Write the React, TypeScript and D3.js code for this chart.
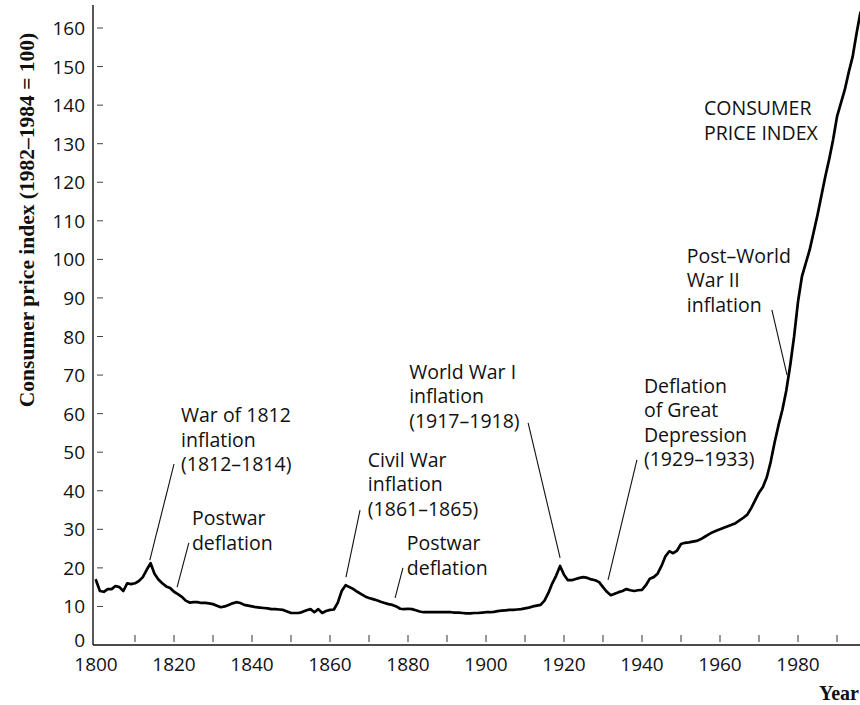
import React from "react";
import * as d3 from "d3";

// ---- Data ----
const years = [
  1800, 1801, 1802, 1803, 1804, 1805, 1806, 1807, 1808, 1809,
  1810, 1811, 1812, 1813, 1814, 1815, 1816, 1817, 1818, 1819,
  1820, 1821, 1822, 1823, 1824, 1825, 1826, 1827, 1828, 1829,
  1830, 1831, 1832, 1833, 1834, 1835, 1836, 1837, 1838, 1839,
  1840, 1841, 1842, 1843, 1844, 1845, 1846, 1847, 1848, 1849,
  1850, 1851, 1852, 1853, 1854, 1855, 1856, 1857, 1858, 1859,
  1860, 1861, 1862, 1863, 1864, 1865, 1866, 1867, 1868, 1869,
  1870, 1871, 1872, 1873, 1874, 1875, 1876, 1877, 1878, 1879,
  1880, 1881, 1882, 1883, 1884, 1885, 1886, 1887, 1888, 1889,
  1890, 1891, 1892, 1893, 1894, 1895, 1896, 1897, 1898, 1899,
  1900, 1901, 1902, 1903, 1904, 1905, 1906, 1907, 1908, 1909,
  1910, 1911, 1912, 1913, 1914, 1915, 1916, 1917, 1918, 1919,
  1920, 1921, 1922, 1923, 1924, 1925, 1926, 1927, 1928, 1929,
  1930, 1931, 1932, 1933, 1934, 1935, 1936, 1937, 1938, 1939,
  1940, 1941, 1942, 1943, 1944, 1945, 1946, 1947, 1948, 1949,
  1950, 1951, 1952, 1953, 1954, 1955, 1956, 1957, 1958, 1959,
  1960, 1961, 1962, 1963, 1964, 1965, 1966, 1967, 1968, 1969,
  1970, 1971, 1972, 1973, 1974, 1975, 1976, 1977, 1978, 1979,
  1980, 1981, 1982, 1983, 1984, 1985, 1986, 1987, 1988, 1989,
  1990, 1991, 1992, 1993, 1994, 1995, 1996,
];

const cpi = [
  16.8, 14.0, 13.8, 14.5, 14.5, 15.3, 15.0, 14.0, 16.0, 15.8,
  16.0, 16.6, 17.6, 19.5, 21.2, 18.5, 17.0, 16.0, 15.2, 14.8,
  13.8, 13.2, 12.5, 11.5, 11.0, 11.1, 11.1, 10.9, 10.9, 10.8,
  10.6, 10.2, 9.8, 10.0, 10.4, 10.8, 11.1, 10.9, 10.4, 10.2,
  10.0, 9.8, 9.7, 9.6, 9.5, 9.3, 9.3, 9.2, 9.1, 8.7,
  8.3, 8.3, 8.3, 8.6, 9.0, 9.3, 8.5, 9.3, 8.3, 8.8,
  9.1, 9.2, 11.0, 14.0, 15.5, 15.0, 14.5, 13.8, 13.2, 12.6,
  12.2, 11.9, 11.6, 11.2, 10.9, 10.6, 10.4, 10.0, 9.4, 9.3,
  9.4, 9.3, 9.0, 8.7, 8.5, 8.5, 8.5, 8.5, 8.5, 8.5,
  8.5, 8.5, 8.4, 8.4, 8.3, 8.2, 8.2, 8.3, 8.3, 8.4,
  8.5, 8.5, 8.6, 8.8, 8.9, 9.0, 9.1, 9.1, 9.2, 9.3,
  9.5, 9.7, 10.0, 10.2, 10.4, 11.5, 13.5, 16.0, 18.0, 20.5,
  18.2, 16.8, 16.8, 17.1, 17.4, 17.6, 17.4, 17.0, 16.8, 16.3,
  15.0, 13.8, 12.9, 13.3, 13.7, 14.0, 14.5, 14.2, 14.0, 14.2,
  14.3, 15.5, 17.2, 17.6, 18.5, 20.5, 23.0, 24.3, 23.8, 24.5,
  26.2, 26.5, 26.6, 26.8, 27.0, 27.4, 28.0, 28.6, 29.2, 29.6,
  30.0, 30.4, 30.8, 31.2, 31.6, 32.3, 33.0, 33.8, 35.5, 37.5,
  39.5, 41.0, 43.5, 47.5, 52.5, 57.0, 61.0, 66.0, 72.5, 80.0,
  89.0, 95.5, 99.0, 102.5, 107.0, 111.5, 116.5, 121.5, 126.0, 131.0,
  137.0, 140.5, 144.0, 148.5, 152.5, 158.5, 164.0,
];

const yTickValues = [0, 10, 20, 30, 40, 50, 60, 70, 80, 90, 100, 110, 120, 130, 140, 150, 160];
const xTickLabels = [1800, 1820, 1840, 1860, 1880, 1900, 1920, 1940, 1960, 1980];
const xMinorTicks = [1810, 1820, 1830, 1840, 1850, 1860, 1870, 1880, 1890, 1900, 1910, 1920, 1930, 1940, 1950, 1960, 1970, 1980, 1990];

const yAxisTitle = "Consumer price index (1982\u20131984 = 100)";
const xAxisTitle = "Year";

// Annotations: text block anchored in data space, leader from/to in data space
const annotations = [
  { lines: ["War of 1812", "inflation", "(1812\u20131814)"], year: 1821.8, value: 57.8, from: [1820.0, 46.9], to: [1813.8, 22.0] },
  { lines: ["Postwar", "deflation"], year: 1824.6, value: 31.1, from: [1823.8, 26.5], to: [1820.8, 15.0] },
  { lines: ["Civil War", "inflation", "(1861\u20131865)"], year: 1869.7, value: 46.2, from: [1867.7, 35.0], to: [1864.1, 17.6] },
  { lines: ["Postwar", "deflation"], year: 1879.7, value: 24.6, from: [1878.7, 20.0], to: [1876.7, 12.2] },
  { lines: ["World War I", "inflation", "(1917\u20131918)"], year: 1880.3, value: 69.0, from: [1910.8, 57.6], to: [1919.0, 22.6] },
  { lines: ["Deflation", "of Great", "Depression", "(1929\u20131933)"], year: 1940.5, value: 65.4, from: [1938.7, 48.0], to: [1931.3, 16.9] },
  { lines: ["Post\u2013World", "War II", "inflation"], year: 1951.5, value: 99.1, from: [1973.3, 86.9], to: [1977.2, 70.0] },
  { lines: ["CONSUMER", "PRICE INDEX"], year: 1955.9, value: 137.4, from: null, to: null },
];

const W = 860;
const H = 705;
const SANS = "'Open Sans', 'Noto Sans', sans-serif";
const SERIF = "'Liberation Serif', 'Times New Roman', serif";

export default function App() {
  const x = d3.scaleLinear().domain([1800, 2000]).range([96, 876]);
  const y = d3.scaleLinear().domain([0, 160]).range([645, 28]);

  const pts = years.map((yr, i) => [yr, cpi[i]] as [number, number]);
  const line = d3
    .line<[number, number]>()
    .x((d) => x(d[0]))
    .y((d) => y(d[1]))
    .curve(d3.curveLinear);

  const axisX = 93;
  const baseY = y(0);
  const titleCenterY = 220;

  return (
    <svg
      width={W}
      height={H}
      viewBox={`0 0 ${W} ${H}`}
      style={{ position: "fixed", left: 0, top: 0, background: "#fff" }}
    >
      <rect x={0} y={0} width={W} height={H} fill="#fff" />
      {/* Y axis */}
      <line x1={axisX} x2={axisX} y1={5} y2={baseY} stroke="#111" strokeWidth={1.4} />
      {yTickValues.map((v) => (
        <g key={`yt${v}`}>
          {v > 0 && (
            <line x1={97} x2={103} y1={y(v)} y2={y(v)} stroke="#444" strokeWidth={1} />
          )}
          <text
            x={85}
            y={v === 0 ? y(v) - 5 : y(v)}
            textAnchor="end"
            dominantBaseline="central"
            fontFamily={SANS}
            fontSize={19}
            fill="#111"
          >
            {v}
          </text>
        </g>
      ))}
      {/* X axis */}
      <line x1={axisX} x2={W} y1={baseY} y2={baseY} stroke="#111" strokeWidth={1.3} />
      {xMinorTicks.map((t) => (
        <line key={`xt${t}`} x1={x(t)} x2={x(t)} y1={baseY - 10} y2={baseY - 3} stroke="#333" strokeWidth={1} />
      ))}
      {xTickLabels.map((t) => (
        <text
          key={`xl${t}`}
          x={x(t)}
          y={671}
          textAnchor="middle"
          fontFamily={SANS}
          fontSize={19}
          fill="#111"
        >
          {t}
        </text>
      ))}
      {/* Axis titles */}
      <text
        transform={`translate(34, ${titleCenterY}) rotate(-90)`}
        textAnchor="middle"
        fontFamily={SERIF}
        fontWeight="bold"
        fontSize={21.5}
        fill="#111"
      >
        {yAxisTitle}
      </text>
      <text x={859} y={700} textAnchor="end" fontFamily={SERIF} fontWeight="bold" fontSize={20} fill="#111">
        {xAxisTitle}
      </text>

      {/* Data line */}
      <path d={line(pts) || ""} fill="none" stroke="#000" strokeWidth={2.7} strokeLinejoin="round" strokeLinecap="round" />

      {/* Annotations */}
      {annotations.map((a, i) => (
        <g key={`an${i}`}>
          {a.from && a.to && (
            <line
              x1={x(a.from[0])}
              y1={y(a.from[1])}
              x2={x(a.to[0])}
              y2={y(a.to[1])}
              stroke="#111"
              strokeWidth={1.1}
            />
          )}
          <text x={x(a.year)} y={y(a.value)} fontFamily={SANS} fontSize={19.5} fill="#111">
            {a.lines.map((ln, j) => (
              <tspan key={j} x={x(a.year)} dy={j === 0 ? 0 : 24.5}>
                {ln}
              </tspan>
            ))}
          </text>
        </g>
      ))}
    </svg>
  );
}
